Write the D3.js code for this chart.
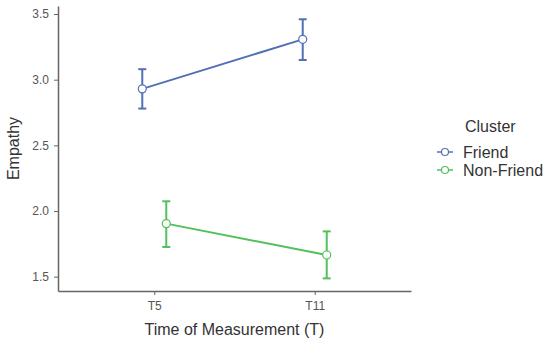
<!DOCTYPE html>
<html lang="en">
<head>
    <meta charset="UTF-8">
    <title>Empathy by Cluster</title>
    <script src="https://d3js.org/d3.v7.min.js"></script>
    <style>
        body { margin: 0; padding: 0; background: #fff; font-family: "Liberation Sans", Arial, sans-serif; }
        .tick text { fill: #555; font-size: 12px; font-family: "Liberation Sans", Arial, sans-serif; }
        .axis path, .axis line { stroke: #666; }
    </style>
</head>
<body>
<div id="chart"></div>
<script>
    // Data
    const times = ["T5", "T11"];
    const clusters = ["Friend", "Non-Friend"];
    const means = [[2.93, 3.307], [1.904, 1.665]];
    const lower = [[2.78, 3.15], [1.726, 1.487]];
    const upper = [[3.08, 3.46], [2.074, 1.845]];
    const yTicks = [1.5, 2.0, 2.5, 3.0, 3.5];
    const colors = ["#5470b5", "#52c15b"];

    const width = 550, height = 345;
    const margin = {top: 6, right: 139, bottom: 54, left: 58};

    const svg = d3.select("#chart").append("svg")
        .attr("width", width).attr("height", height);

    const x = d3.scalePoint().domain(times)
        .range([margin.left, width - margin.right]).padding(0.6);
    const dodge = d3.scalePoint().domain(clusters).range([-12, 12]);
    const y = d3.scaleLinear().domain([1.391, 3.561])
        .range([height - margin.bottom, margin.top]);

    // axes
    svg.append("g").attr("class", "axis")
        .attr("transform", `translate(0,${height - margin.bottom})`)
        .call(d3.axisBottom(x).tickSize(4).tickPadding(6).tickSizeOuter(0))
        .call(g => g.select(".domain").attr("stroke-width", 1.5));
    svg.append("g").attr("class", "axis")
        .attr("transform", `translate(${margin.left},0)`)
        .call(d3.axisLeft(y).tickValues(yTicks).tickFormat(d3.format(".1f")).tickSize(4).tickPadding(5).tickSizeOuter(0))
        .call(g => g.select(".domain").attr("stroke-width", 1.5));
    svg.selectAll(".tick line").attr("stroke", "#333");

    // axis titles
    svg.append("text")
        .attr("x", (margin.left + width - margin.right) / 2).attr("y", 335)
        .attr("text-anchor", "middle").attr("font-size", 16).attr("fill", "#333")
        .text("Time of Measurement (T)");
    svg.append("text")
        .attr("transform", `translate(19,${(margin.top + height - margin.bottom) / 2}) rotate(-90)`)
        .attr("text-anchor", "middle").attr("font-size", 16).attr("fill", "#333")
        .text("Empathy");

    // series
    clusters.forEach((c, i) => {
        const pts = times.map((t, j) => ({t, m: means[i][j], lo: lower[i][j], hi: upper[i][j]}));
        const px = d => x(d.t) + dodge(c);
        const g = svg.append("g");
        g.append("path")
            .datum(pts)
            .attr("fill", "none").attr("stroke", colors[i]).attr("stroke-width", 2)
            .attr("d", d3.line().x(px).y(d => y(d.m)));
        pts.forEach(d => {
            g.append("line").attr("x1", px(d)).attr("x2", px(d))
                .attr("y1", y(d.lo)).attr("y2", y(d.hi))
                .attr("stroke", colors[i]).attr("stroke-width", 2);
            [d.lo, d.hi].forEach(v => {
                g.append("line").attr("x1", px(d) - 4).attr("x2", px(d) + 4)
                    .attr("y1", y(v)).attr("y2", y(v))
                    .attr("stroke", colors[i]).attr("stroke-width", 2);
            });
            g.append("circle").attr("cx", px(d)).attr("cy", y(d.m)).attr("r", 4)
                .attr("fill", "#fff").attr("stroke", colors[i]).attr("stroke-width", 1.2);
        });
    });

    // legend
    const legend = svg.append("g").attr("transform", "translate(437,0)");
    legend.append("text").attr("x", 28).attr("y", 132)
        .attr("font-size", 16).attr("fill", "#333").text("Cluster");
    clusters.forEach((c, i) => {
        const ly = 152 + i * 18;
        legend.append("line").attr("x1", 0).attr("x2", 16).attr("y1", ly).attr("y2", ly)
            .attr("stroke", colors[i]).attr("stroke-width", 1.5);
        legend.append("circle").attr("cx", 8).attr("cy", ly).attr("r", 3.5)
            .attr("fill", "#fff").attr("stroke", colors[i]).attr("stroke-width", 1.2);
        legend.append("text").attr("x", 26).attr("y", ly + 5.5)
            .attr("font-size", 16).attr("fill", "#333").text(c);
    });
</script>
</body>
</html>
